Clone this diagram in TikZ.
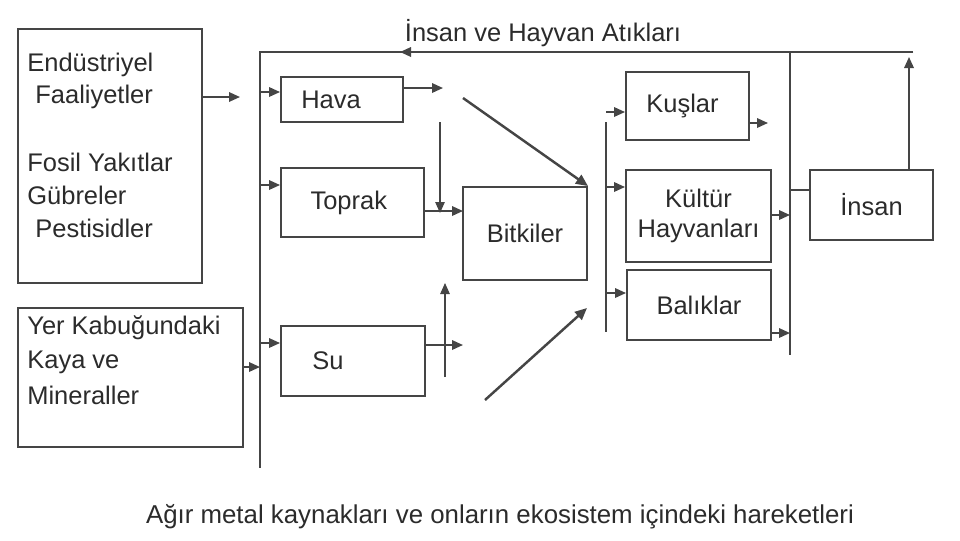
\documentclass[tikz,border=0pt]{standalone}
\usepackage{fontspec}
\setmainfont{Liberation Sans}
\usetikzlibrary{positioning,calc,arrows.meta}
\definecolor{inkgray}{HTML}{454545}
\definecolor{textgray}{HTML}{2B2B2B}
\tikzset{
  line/.style={draw=inkgray,line width=1pt},
  thinline/.style={draw=inkgray,line width=0.7pt},
  arrow/.style={line,-{Triangle[length=2.2mm,width=1.9mm]}},
  thinarrow/.style={thinline,-{Triangle[length=2.2mm,width=1.9mm]}},
  diag/.style={draw=inkgray,line width=1.4pt,-{Triangle[length=2.4mm,width=2.1mm]}},
  box/.style={rectangle,draw=inkgray,line width=1.1pt,inner sep=0,text=textgray,font=\fontsize{14.5}{17}\selectfont},
  lab/.style={text=textgray,font=\fontsize{14.5}{17}\selectfont,inner sep=0},
}
\begin{document}
\begin{tikzpicture}[x=0.2mm,y=-0.2mm]
  \useasboundingbox (0,0) rectangle (960,540);
  % source boxes, text set in separately
  \node[box,minimum width=36.8mm,minimum height=50.8mm] (endus) at (110,156) {};
  \node[box,minimum width=45mm,minimum height=27.8mm] (yer) at (130.5,377.5) {};
  \node[lab,anchor=west] at (27,65) {Endüstriyel};
  \node[lab,anchor=west] at (35,97) {Faaliyetler};
  \node[lab,anchor=west] at (27,162) {Fosil Yakıtlar};
  \node[lab,anchor=west] at (27,195) {Gübreler};
  \node[lab,anchor=west] at (35,228) {Pestisidler};
  \node[lab,anchor=west] at (27,328) {Yer Kabuğundaki};
  \node[lab,anchor=west] at (27,362) {Kaya ve};
  \node[lab,anchor=west] at (27,395) {Mineraller};
  % compartments
  \node[box,minimum width=24.4mm,minimum height=9mm] (hava) at (342,99.5) {Hava\kern4.4mm};
  \node[box,minimum width=28.6mm,minimum height=13.8mm] (toprak) at (352.5,202.5) {Toprak\kern1.5mm};
  \node[box,minimum width=28.8mm,minimum height=14mm] (su) at (353,361) {Su\kern10mm};
  \node[box,minimum width=24.8mm,minimum height=18.6mm] (bitki) at (525,233.5) {Bitkiler};
  \node[box,minimum width=24.6mm,minimum height=13.6mm] (kus) at (687.5,106) {Kuşlar\kern2mm};
  \node[box,minimum width=29mm,minimum height=18.4mm,align=center] (kultur) at (698.5,216) {Kültür\\Hayvanları};
  \node[box,minimum width=28.8mm,minimum height=14mm] (balik) at (699,305) {Balıklar};
  \node[box,minimum width=24.6mm,minimum height=14mm] (insan) at (871.5,205) {İnsan};
  \node[lab] (atik) at (543,33) {İnsan ve Hayvan Atıkları};
  \node[lab,font=\fontsize{14.7}{17}\selectfont] (caption) at (500,517) {Ağır metal kaynakları ve onların ekosistem içindeki hareketleri};
  % bus lines
  \coordinate (busLt) at (260,52);
  \coordinate (busLb) at (260,468);
  \coordinate (busMt) at (606,122);
  \coordinate (busMb) at (606,332);
  \coordinate (busRt) at (790,52);
  \coordinate (busRb) at (790,355);
  \coordinate (topR) at (913,52);
  \coordinate (topTip) at (400,52);
  \draw[line] (topR) -- (busLt) -- (busLb);
  \draw[arrow] (topR) -- (topTip);
  \draw[line] (busMt) -- (busMb);
  \draw[line] (busRt) -- (busRb);
  % into the left bus
  \coordinate (endOut) at (240,97);
  \coordinate (yerOut) at (260,367);
  \draw[arrow] (endOut -| endus.east) -- (endOut);
  \draw[arrow] (yerOut -| yer.east) -- (yerOut);
  % left bus to compartments
  \coordinate (inHava) at ([yshift=1.5mm]hava.west);
  \coordinate (inToprak) at ([yshift=3.5mm]toprak.west);
  \coordinate (inSu) at ([yshift=3.6mm]su.west);
  \draw[arrow] (inHava -| busLt) -- (inHava);
  \draw[arrow] (inToprak -| busLt) -- (inToprak);
  \draw[arrow] (inSu -| busLt) -- (inSu);
  % compartments to plants
  \coordinate (havaOut) at (443,88);
  \coordinate (dropT) at (440,122);
  \coordinate (dropB) at (440,213);
  \coordinate (toBitki) at (463,211);
  \coordinate (suOut) at (463,345);
  \coordinate (riseB) at (445,377);
  \coordinate (riseT) at (445,283);
  \coordinate (diagA) at (463,98);
  \coordinate (diagB) at (485,400);
  \coordinate (diagBtip) at (587,308);
  \draw[arrow] (havaOut -| hava.east) -- (havaOut);
  \draw[thinarrow] (dropT) -- (dropB);
  \draw[arrow] (toBitki -| toprak.east) -- (toBitki);
  \draw[arrow] (suOut -| su.east) -- (suOut);
  \draw[thinarrow] (riseB) -- (riseT);
  \draw[diag] (diagA) -- (bitki.north east);
  \draw[diag] (diagB) -- (diagBtip);
  % animals
  \coordinate (inKus) at ([yshift=-1.2mm]kus.west);
  \coordinate (inKultur) at ([yshift=5.8mm]kultur.west);
  \coordinate (inBalik) at ([yshift=2.4mm]balik.west);
  \draw[arrow] (inKus -| busMt) -- (inKus);
  \draw[arrow] (inKultur -| busMt) -- (inKultur);
  \draw[arrow] (inBalik -| busMt) -- (inBalik);
  \coordinate (kusOut) at (768,123);
  \coordinate (kulOut) at (790,215);
  \coordinate (balOut) at (790,333);
  \draw[arrow] (kusOut -| kus.east) -- (kusOut);
  \draw[arrow] (kulOut -| kultur.east) -- (kulOut);
  \draw[arrow] (balOut -| balik.east) -- (balOut);
  % human
  \coordinate (inInsan) at ([yshift=3mm]insan.west);
  \coordinate (insUp) at (909,57);
  \draw[line] (inInsan -| busRt) -- (inInsan);
  \draw[arrow] (insUp |- insan.north) -- (insUp);
\end{tikzpicture}
\end{document}
